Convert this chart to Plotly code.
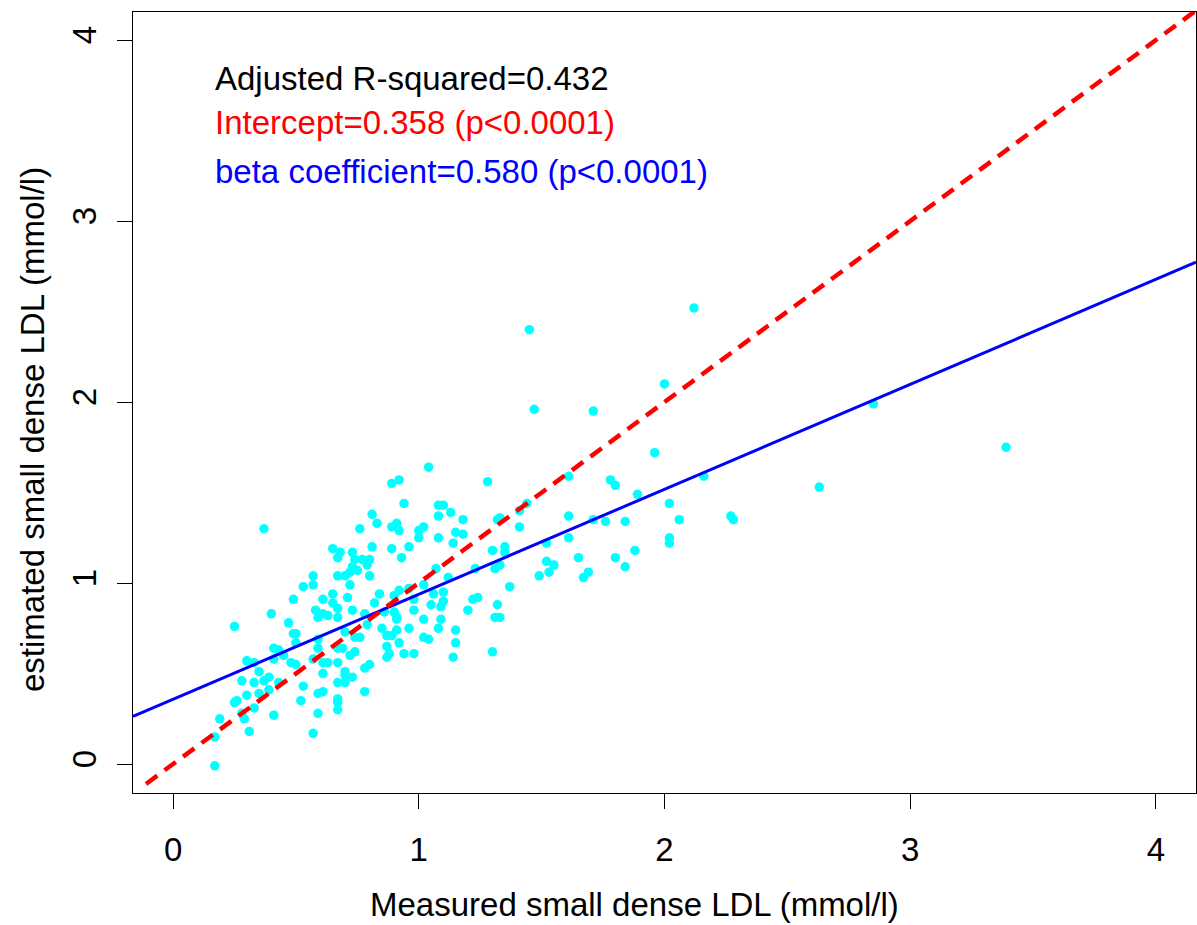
import plotly.graph_objects as go

# Measured vs estimated small dense LDL (mmol/l)
measured = [
    0.17,0.17,0.19,0.25,0.26,0.28,0.29,0.33,0.31,0.41,
    0.37,0.25,0.40,0.47,0.49,0.50,0.50,0.41,0.43,0.45,
    0.30,0.33,0.41,0.48,0.50,0.57,0.35,0.28,0.33,0.37,
    0.39,0.43,0.53,0.30,0.35,0.39,0.52,0.59,0.61,0.59,
    0.57,0.67,0.67,0.67,0.67,0.70,0.61,0.70,0.61,0.63,
    0.67,0.59,0.59,0.67,0.69,0.70,0.58,0.59,0.61,0.63,
    0.67,0.65,0.67,0.65,0.61,0.49,0.53,0.57,0.57,0.67,
    0.70,0.72,0.65,0.68,0.67,0.71,
    1.04,0.89,0.92,0.94,0.81,0.83,0.76,0.89,0.91,0.92,
    1.02,1.00,1.00,1.08,1.10,1.08,1.13,1.18,1.28,1.32,
    1.33,1.15,1.18,1.08,1.14,0.81,0.89,0.96,0.93,1.30,
    1.35,1.35,0.73,0.74,0.77,0.80,0.79,0.73,0.75,0.72,
    0.80,1.07,1.12,1.23,1.31,1.33,0.84,0.90,0.92,0.96,
    0.98,0.82,1.02,1.06,1.10,1.10,1.09,1.05,1.22,1.24,
    1.32,0.73,0.78,0.86,0.90,0.91,0.91,0.98,1.02,1.09,
    1.08,0.96,1.20,1.31,1.33,0.85,0.87,0.89,0.91,0.74,
    0.76,1.02,1.04,1.15,1.15,0.87,0.88,0.87,0.92,0.94,
    0.98,0.72,0.74,1.14,1.30,0.78,0.80,0.70,0.73,0.78,
    0.79,
    1.61,1.41,1.44,1.41,1.61,1.71,1.61,1.52,1.52,1.55,
    1.53,1.65,1.49,1.67,1.69,1.37,
    2.12,2.00,1.71,1.96,1.78,1.80,2.16,1.89,2.02,1.76,
    1.84,2.06,2.27,2.28,2.02,2.02,1.88,1.80,1.84,1.45,
    1.47,2.85,3.39,2.63,
]
estimated = [
    -0.01,0.15,0.25,0.34,0.35,0.28,0.25,0.31,0.18,0.27,
    1.30,0.76,0.83,0.78,0.72,0.72,0.67,0.64,0.63,0.60,
    0.57,0.56,0.58,0.56,0.55,0.58,0.51,0.46,0.45,0.46,
    0.48,0.45,0.43,0.38,0.39,0.41,0.35,0.39,0.40,0.28,
    0.17,0.36,0.30,0.34,0.45,0.45,0.50,0.51,0.56,0.56,
    0.56,0.64,0.69,0.64,0.64,0.73,0.85,0.81,0.83,0.82,
    0.81,0.89,0.86,0.94,0.91,0.91,0.98,0.99,1.04,1.04,
    1.04,0.99,1.19,1.17,1.14,0.92,
    1.64,1.55,1.57,1.44,1.38,1.33,1.30,1.31,1.33,1.29,
    1.31,1.29,1.25,1.43,1.43,1.37,1.39,1.35,1.56,1.35,
    1.36,1.28,1.27,1.25,1.22,1.20,1.19,1.20,1.14,1.18,
    1.20,1.17,1.17,1.13,1.13,1.13,1.10,1.09,1.07,1.06,
    1.04,1.08,1.03,1.08,1.08,1.10,0.94,0.93,0.96,0.97,
    0.91,0.89,0.99,0.94,0.95,0.90,0.87,0.88,0.91,0.92,
    0.88,0.85,0.83,0.84,0.84,0.81,0.80,0.85,0.80,0.80,
    0.75,0.75,0.85,0.81,0.81,0.75,0.71,0.71,0.74,0.70,
    0.70,0.70,0.69,0.74,0.67,0.65,0.61,0.59,0.67,0.61,
    0.61,0.60,0.62,0.59,0.62,0.53,0.55,0.49,0.48,0.40,
    0.77,
    1.59,1.40,1.44,1.31,1.37,1.35,1.25,1.22,1.12,1.10,
    1.06,1.14,1.04,1.03,1.06,0.98,
    2.52,2.10,1.95,1.72,1.57,1.54,1.59,1.49,1.44,1.34,
    1.34,1.35,1.37,1.35,1.25,1.22,1.18,1.14,1.09,2.40,
    1.96,1.99,1.75,1.53,
]

# regression fit and identity line
intercept = 0.358
beta = 0.580
adj_r2 = 0.432
x_range = [-0.163, 4.163]
y_range = [-0.16, 4.155]
ticks = [0, 1, 2, 3, 4]

fit_y = [intercept + beta * v for v in x_range]
ident_x = [-0.11, 4.163]
ident_y = list(ident_x)

FONT = "Liberation Sans, Arial, Helvetica, sans-serif"
FS = 33

fig = go.Figure()
fig.add_trace(go.Scatter(
    x=measured, y=estimated, mode="markers",
    marker=dict(color="#00FFFF", size=9.5, line=dict(width=0)),
    showlegend=False, hoverinfo="x+y",
))
fig.add_trace(go.Scatter(
    x=x_range, y=fit_y, mode="lines",
    line=dict(color="#0000FF", width=3), showlegend=False,
))
fig.add_trace(go.Scatter(
    x=ident_x, y=ident_y, mode="lines",
    line=dict(color="#FF0000", width=4.5, dash="14px,9px"), showlegend=False,
))

axis_common = dict(
    showgrid=False, zeroline=False, showline=True, mirror=True,
    linecolor="black", linewidth=1.3, ticks="outside", ticklen=15,
    tickwidth=1.3, tickcolor="black", tickvals=ticks,
    ticktext=[str(t) for t in ticks],
    tickfont=dict(family=FONT, size=FS, color="black"),
)

fig.update_layout(
    width=1197, height=925,
    margin=dict(l=133, r=1, t=12, b=132),
    paper_bgcolor="white", plot_bgcolor="white",
    xaxis=dict(range=x_range, ticklabelstandoff=12, **axis_common),
    yaxis=dict(range=y_range, tickangle=-90, ticklabelstandoff=8, **axis_common),
    font=dict(family=FONT, size=FS, color="black"),
)

notes = [
    ("Adjusted R-squared=%.3f" % adj_r2, "black", 3.79),
    ("Intercept=%.3f (p<0.0001)" % intercept, "#FF0000", 3.545),
    ("beta coefficient=%.3f (p<0.0001)" % beta, "#0000FF", 3.275),
]
for text, col, yy in notes:
    fig.add_annotation(
        x=0.163, y=yy, xref="x", yref="y", text=text, showarrow=False,
        xanchor="left", yanchor="middle",
        font=dict(family=FONT, size=FS, color=col),
    )

fig.add_annotation(
    x=(634 - 133) / 1063, y=(793 - 904) / 781, xref="paper", yref="paper",
    text="Measured small dense LDL (mmol/l)", showarrow=False,
    xanchor="center", yanchor="middle",
    font=dict(family=FONT, size=FS, color="black"),
)
fig.add_annotation(
    x=(33 - 133) / 1063, y=(793 - 430) / 781, xref="paper", yref="paper",
    text="estimated small dense LDL (mmol/l)", showarrow=False, textangle=-90,
    xanchor="center", yanchor="middle",
    font=dict(family=FONT, size=FS, color="black"),
)

fig.write_html(
    "out.html",
    config={"displayModeBar": False},
    post_script="document.body.style.margin='0';document.body.style.padding='0';",
)
